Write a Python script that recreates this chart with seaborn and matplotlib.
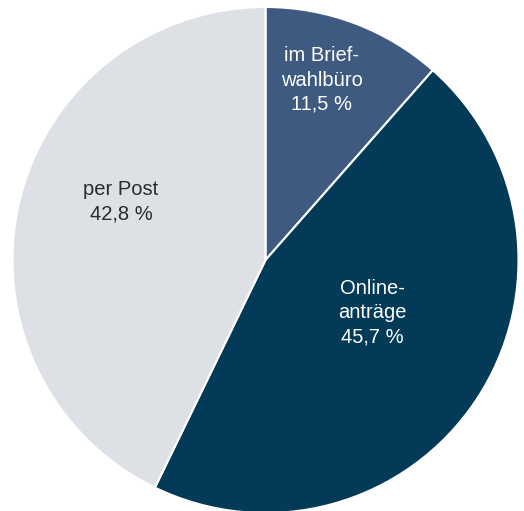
import matplotlib
matplotlib.use("Agg")
import matplotlib.pyplot as plt
import seaborn as sns

# Anteile der Briefwahlanträge
kategorien = ["im Brief-\nwahlbüro", "Online-\nanträge", "per Post"]
anteile = [11.5, 45.7, 42.8]
farben = ["#3f5a80", "#023a58", "#dde1e5"]
textfarben = ["white", "white", "#2b2b2b"]

sns.set_theme(style="white")
plt.rcParams["font.family"] = ["Liberation Sans", "DejaVu Sans"]

fig = plt.figure(figsize=(5.24, 5.11), dpi=100)
ax = fig.add_axes([0, 0, 1, 1])

wedges, _ = ax.pie(anteile, colors=sns.color_palette(farben), startangle=90,
                   counterclock=False, radius=1.0,
                   wedgeprops=dict(edgecolor="white", linewidth=1.5))

# Position der Beschriftungen (relativ zum Kreis)
label_pos = [(0.223, 0.711), (0.423, -0.209), (-0.571, 0.229)]
for name, wert, (x, y), tc in zip(kategorien, anteile, label_pos, textfarben):
    txt = name + "\n" + f"{wert:.1f}".replace(".", ",") + " %"
    ax.text(x, y, txt, ha="center", va="center", color=tc,
            fontsize=14.5, linespacing=1.35)

ax.set_xlim(-1.0494, 1.0217)
ax.set_ylim(-0.992, 1.0277)
ax.set_aspect("equal")
ax.axis("off")

fig.savefig("out.png", dpi=100)
